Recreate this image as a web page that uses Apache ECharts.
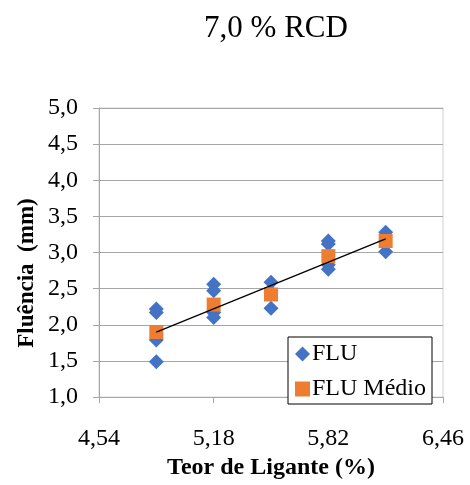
<!DOCTYPE html>
<html>
<head>
	<meta charset="utf-8">
	<title></title>
	<script src="https://cdn.jsdelivr.net/npm/echarts@6/dist/echarts.min.js"></script>
	<style>
		body { margin: 0; background: #fff; }
	</style>
</head>
<body>
	<div id="main" style="width: 470px;height:485px;"></div>
	<script type="text/javascript">
		// 数据
		var teor = [4.86, 5.18, 5.50, 5.82, 6.14];
		// FLU individual points (x, y)
		var fluX = [4.86, 4.86, 4.86, 4.86, 5.18, 5.18, 5.18, 5.18, 5.50, 5.50, 5.50, 5.82, 5.82, 5.82, 5.82, 6.14, 6.14];
		var fluY = [2.22, 2.17, 1.79, 1.49, 2.56, 2.47, 2.17, 2.10, 2.59, 2.45, 2.23, 3.16, 3.12, 2.83, 2.77, 3.28, 3.01];
		var fluMedio = [1.90, 2.28, 2.42, 2.95, 3.16];
		var trendX = [4.86, 6.14];
		var trendY = [1.90, 3.19];

		var serif = 'Liberation Serif';
		var fmt = function (v) { return v.toFixed(2).replace('.', ','); };

		var fluData = [];
		for (var i = 0; i < fluX.length; i++) fluData.push([fluX[i], fluY[i]]);
		var medioData = [];
		for (var j = 0; j < teor.length; j++) medioData.push([teor[j], fluMedio[j]]);
		var trendData = [];
		for (var k = 0; k < trendX.length; k++) trendData.push([trendX[k], trendY[k]]);

		var myChart = echarts.init(document.getElementById('main'));

		var option = {
			animation: false,
			backgroundColor: '#fff',
			textStyle: { fontFamily: serif },
			title: {
				text: '7,0 % RCD',
				left: 271,
				textAlign: 'center',
				top: 8,
				textStyle: { fontFamily: serif, fontWeight: 'normal', fontSize: 31, color: '#000' }
			},
			grid: {
				left: 99, right: 27, top: 108, bottom: 75,
				show: true, borderColor: '#d0d0d0', borderWidth: 1
			},
			legend: {
				orient: 'vertical',
				left: 288,
				top: 337,
				width: 145,
				padding: [5, 6, 3, 7],
				itemGap: 11,
				itemWidth: 15,
				itemHeight: 15,
				borderColor: '#000',
				borderWidth: 1,
				backgroundColor: '#fff',
				data: [
					{ name: 'FLU', icon: 'diamond' },
					{ name: 'FLU Médio', icon: 'rect' }
				],
				textStyle: { fontFamily: serif, fontSize: 24, color: '#000', padding: [0, 0, 0, -3] }
			},
			xAxis: {
				type: 'value',
				min: 4.54,
				max: 6.46,
				interval: 0.64,
				name: 'Teor de Ligante (%)',
				nameLocation: 'middle',
				nameGap: 58,
				nameTextStyle: { fontFamily: serif, fontWeight: 'bold', fontSize: 24, color: '#000' },
				axisLine: { lineStyle: { color: '#a6a6a6', width: 1 } },
				axisTick: { show: true, length: 6, inside: false, lineStyle: { color: '#a6a6a6' } },
				splitLine: { show: false },
				axisLabel: {
					fontFamily: serif, fontSize: 24, color: '#000', margin: 30,
					formatter: function (v) { return fmt(v); }
				}
			},
			yAxis: {
				type: 'value',
				min: 1.0,
				max: 5.0,
				interval: 0.5,
				axisLine: { show: true, lineStyle: { color: '#a6a6a6', width: 1 } },
				axisTick: { show: true, length: 6, lineStyle: { color: '#a6a6a6' } },
				splitLine: { show: true, lineStyle: { color: '#a6a6a6', width: 1 } },
				axisLabel: {
					fontFamily: serif, fontSize: 24, color: '#000', margin: 21,
					formatter: function (v) { return v.toFixed(1).replace('.', ','); }
				}
			},
			graphic: [
				{
					type: 'text',
					x: 27,
					y: 273,
					rotation: Math.PI / 2,
					style: {
						text: 'Fluência  (mm)',
						font: 'bold 23px ' + serif,
						fill: '#000',
						align: 'center',
						verticalAlign: 'middle'
					}
				}
			],
			series: [
				{
					name: 'FLU',
					type: 'scatter',
					symbol: 'diamond',
					symbolSize: [15, 15],
					itemStyle: { color: '#4472C4', opacity: 1 },
					data: fluData,
					z: 2
				},
				{
					name: 'FLU Médio',
					type: 'scatter',
					symbol: 'rect',
					symbolSize: [14, 14],
					itemStyle: { color: '#ED7D31', opacity: 1 },
					data: medioData,
					z: 3
				},
				{
					name: 'tendencia',
					type: 'line',
					showSymbol: false,
					symbol: 'none',
					lineStyle: { color: '#000', width: 1.3 },
					data: trendData,
					z: 4
				}
			]
		};

		myChart.setOption(option);
	</script>
</body>
</html>
